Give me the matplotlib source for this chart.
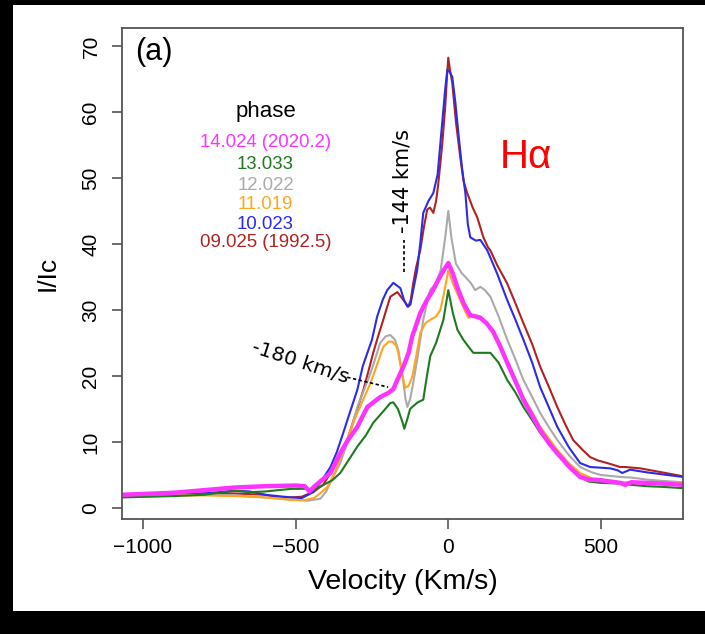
import numpy as np
import matplotlib.pyplot as plt
from matplotlib.patches import Rectangle

# H-alpha profiles, velocity (km/s) vs I/Ic
v_14 = [-1069, -900, -800, -700, -600, -500, -470, -455, -440, -420, -386, -354, -330, -298, -265,
        -240, -223, -197, -180, -167, -147, -130, -118, -92, -70, -50, -30, -15, 0, 15, 29, 50, 72,
        90, 105, 125, 147, 170, 193, 220, 246, 275, 301, 330, 357, 395, 432, 460, 500, 563, 580,
        600, 650, 700, 769]
i_14 = [2.0, 2.3, 2.7, 3.1, 3.3, 3.4, 3.3, 2.5, 3.2, 4.0, 5.3, 8.3, 10.2, 12.3, 15.3,
        16.2, 16.8, 17.4, 18.0, 19.4, 21.4, 23.5, 26.0, 29.5, 31.5, 33.0, 34.8, 36.0, 37.1, 35.5,
        33.5, 31.0, 29.2, 29.0, 28.8, 28.0, 26.7, 24.5, 22.0, 19.2, 16.4, 14.0, 11.8, 9.8, 8.3,
        6.3, 4.7, 4.3, 4.2, 3.8, 3.5, 3.9, 3.8, 3.7, 3.5]

v_13 = [-1069, -900, -800, -720, -700, -650, -600, -514, -470, -440, -409, -380, -354, -330, -298,
        -270, -246, -210, -190, -180, -165, -150, -144, -134, -125, -118, -100, -82, -70, -59, -40,
        -16, 0, 15, 30, 49, 65, 82, 110, 138, 165, 193, 220, 246, 275, 301, 330, 357, 395, 432, 460,
        500, 563, 600, 650, 700, 769]
i_13 = [1.6, 1.8, 2.0, 2.5, 2.6, 2.4, 2.5, 2.9, 2.9, 2.8, 3.5, 4.2, 5.3, 7.0, 9.3,
        11.0, 12.9, 14.8, 15.9, 16.0, 15.0, 13.0, 12.0, 13.5, 15.0, 15.3, 16.0, 16.4, 20.0, 23.0,
        25.0, 28.5, 33.0, 29.5, 27.0, 25.5, 24.5, 23.5, 23.5, 23.5, 22.0, 19.4, 17.5, 15.3, 13.3,
        11.4, 9.8, 8.3, 6.3, 4.7, 4.0, 3.8, 3.7, 3.5, 3.3, 3.2, 3.0]

v_12 = [-1069, -900, -800, -700, -600, -550, -495, -460, -419, -400, -380, -354, -330, -298, -275,
        -255, -240, -223, -205, -190, -175, -164, -150, -140, -134, -125, -115, -100, -82, -60, -40,
        -25, -10, 0, 10, 25, 45, 56, 75, 88, 105, 120, 138, 165, 193, 220, 246, 275, 301, 330, 357,
        395, 432, 470, 500, 563, 600, 650, 700, 769]
i_12 = [1.8, 1.9, 2.0, 1.9, 1.6, 1.4, 1.2, 1.1, 1.4, 2.5, 4.5, 6.8, 10.0, 15.3, 18.0,
        20.4, 22.5, 25.0, 26.0, 26.2, 25.5, 24.0, 20.0, 16.5, 15.3, 16.5, 18.9, 23.0, 28.5, 33.0,
        34.0, 36.0, 41.0, 45.0, 41.0, 37.0, 35.5, 35.0, 34.0, 33.0, 33.5, 33.0, 32.0, 29.0, 25.5,
        22.5, 19.4, 16.8, 14.4, 12.2, 10.3, 8.0, 6.2, 5.4, 5.0, 4.7, 4.6, 4.3, 4.1, 3.9]

v_11 = [-1069, -900, -800, -700, -600, -550, -514, -470, -440, -420, -396, -370, -344, -320, -298,
        -275, -255, -235, -213, -195, -183, -170, -164, -150, -141, -130, -118, -105, -92, -75, -59,
        -40, -26, -12, 0, 15, 39, 55, 66, 85, 105, 125, 147, 170, 193, 220, 246, 275, 301, 330, 357,
        395, 432, 470, 500, 563, 600, 650, 700, 769]
i_11 = [1.8, 1.9, 1.9, 1.8, 1.6, 1.4, 1.2, 1.2, 1.5, 2.2, 3.2, 5.5, 8.8, 11.8, 14.4,
        16.8, 18.9, 21.5, 24.4, 25.2, 25.2, 24.5, 23.5, 20.0, 18.2, 18.5, 19.9, 23.0, 26.5, 28.0,
        28.5, 29.0, 30.0, 33.0, 36.0, 34.0, 31.5, 29.8, 28.8, 29.2, 29.0, 28.0, 26.5, 24.5, 22.4,
        19.5, 16.8, 14.5, 12.3, 10.5, 8.8, 6.8, 5.3, 4.5, 4.3, 3.9, 3.9, 3.8, 3.8, 3.8]

v_10 = [-1069, -900, -800, -700, -650, -600, -517, -480, -442, -420, -386, -365, -344, -320, -298,
        -280, -265, -250, -233, -215, -200, -180, -157, -145, -134, -124, -115, -102, -92, -82, -65,
        -49, -35, -20, -10, -3, 5, 13, 23, 33, 45, 56, 64, 72, 90, 105, 128, 160, 193, 220, 246, 275,
        301, 330, 357, 395, 432, 465, 500, 531, 555, 570, 596, 650, 700, 769]
i_10 = [2.0, 2.1, 2.2, 2.6, 2.5, 2.0, 1.6, 1.5, 2.4, 3.8, 6.2, 8.5, 11.4, 14.8, 17.9,
        21.5, 23.5, 25.5, 29.0, 31.5, 33.0, 34.1, 33.3, 31.5, 30.5, 30.8, 33.0, 36.0, 40.0, 44.7,
        46.5, 47.7, 50.5, 58.3, 63.5, 66.4, 66.0, 65.3, 61.5, 56.8, 51.5, 47.7, 43.0, 41.0, 40.5,
        40.6, 39.0, 35.5, 31.5, 28.5, 25.5, 22.0, 18.3, 15.2, 12.3, 9.2, 6.8, 6.2, 6.1, 6.0, 5.7,
        5.3, 5.8, 5.4, 5.1, 4.7]

v_09 = [-1069, -900, -800, -700, -600, -576, -520, -480, -440, -410, -386, -360, -331, -305, -278,
        -260, -246, -230, -213, -200, -190, -167, -147, -131, -123, -115, -105, -92, -80, -69, -60,
        -49, -40, -33, -20, -10, -4, 0, 5, 13, 25, 39, 50, 62, 80, 95, 115, 130, 138, 160, 193, 220,
        246, 275, 301, 330, 357, 385, 409, 440, 465, 490, 521, 563, 580, 629, 700, 769]
i_09 = [2.0, 2.1, 2.2, 2.2, 2.0, 1.7, 1.6, 1.7, 2.5, 3.5, 5.3, 7.5, 10.3, 14.0, 17.9,
        21.0, 23.5, 26.0, 28.5, 30.5, 32.0, 32.7, 31.5, 30.5, 31.5, 34.0, 36.5, 39.0, 42.5, 45.2,
        45.5, 44.7, 46.5, 49.0, 55.0, 60.8, 65.5, 68.2, 66.5, 64.4, 58.5, 53.2, 49.5, 47.7, 45.5,
        44.0, 41.0, 39.5, 39.0, 36.8, 34.0, 31.0, 28.0, 24.8, 21.4, 18.3, 15.3, 12.5, 10.3, 8.8,
        7.7, 7.2, 6.8, 6.2, 6.2, 6.0, 5.4, 4.8]

phase_labels = ['14.024 (2020.2)', '13.033', '12.022', '11.019', '10.023', '09.025 (1992.5)']
phase_colors = ['#ff33ff', '#1e7a1e', '#aaaaaa', '#ffa520', '#2b2be8', '#b22222']

xticks = [-1000, -500, 0, 500]
yticks = [0, 10, 20, 30, 40, 50, 60, 70]

plt.rcParams['font.family'] = ['Liberation Sans', 'DejaVu Sans']

fig = plt.figure(figsize=(7.05, 6.34), dpi=100, facecolor='black')
# white panel inside the black frame
fig.patches.append(Rectangle((13 / 705, 23 / 634), 692 / 705, 606 / 634,
                             transform=fig.transFigure, facecolor='white', edgecolor='none', zorder=-10))

ax = fig.add_axes([122 / 705, 115 / 634, 561 / 705, 491 / 634])
ax.set_facecolor('white')

# draw order: red, blue, gray, orange, green, magenta on top
series = [(v_09, i_09, 5, 1.5), (v_10, i_10, 4, 1.5), (v_12, i_12, 2, 1.5),
          (v_11, i_11, 3, 1.5), (v_13, i_13, 1, 1.5), (v_14, i_14, 0, 3.2)]
for v, inten, k, lw in series:
    ax.plot(v, inten, color=phase_colors[k], lw=lw, solid_joinstyle='round')

ax.set_xlim(-1069, 769)
ax.set_ylim(-1.67, 72.7)
ax.set_xticks(xticks)
ax.set_yticks(yticks)
ax.set_xticklabels(['\u22121000', '\u2212500', '0', '500'])
for s in ax.spines.values():
    s.set_color('#555555')
    s.set_linewidth(1.3)
ax.tick_params(axis='both', length=7.5, width=1.2, color='#555555', labelsize=15)
ax.tick_params(axis='x', pad=6)
ax.tick_params(axis='y', pad=8, labelrotation=90)
for lab in ax.get_yticklabels():
    lab.set_va('center')

ax.set_xlabel('Velocity (Km/s)', fontsize=20.5, labelpad=9)
ax.set_ylabel('I/Ic', fontsize=19, labelpad=16)

# panel tag and line name
ax.text(-966, 69.1, '(a)', fontsize=22, ha='center', va='center')
ax.text(255, 53.2, 'H\u03b1', fontsize=29, color='red', ha='center', va='center')

# phase list
ax.text(-599, 60.0, 'phase', fontsize=16, ha='center', va='center')
label_y = [55.3, 52.0, 48.8, 45.9, 43.0, 40.2]
for lab, col, y in zip(phase_labels, phase_colors, label_y):
    ax.text(-599, y, lab, fontsize=13.4, color=col, ha='center', va='center')

# velocity markers
ax.text(-149, 49.5, '-144 km/s', fontsize=15, rotation=90, ha='center', va='center',
        family='DejaVu Sans')
ax.plot([-144, -144], [35.8, 40.6], color='black', lw=1.2, ls=(0, (2, 1.5)))
ax.text(-485, 22.1, '-180 km/s', fontsize=14.5, rotation=-18, ha='center', va='center',
        family='DejaVu Sans', rotation_mode='anchor')
ax.plot([-331, -197], [19.8, 18.3], color='black', lw=1.2, ls=(0, (2, 1.5)))

fig.savefig('out.png', dpi=100, facecolor=fig.get_facecolor())
